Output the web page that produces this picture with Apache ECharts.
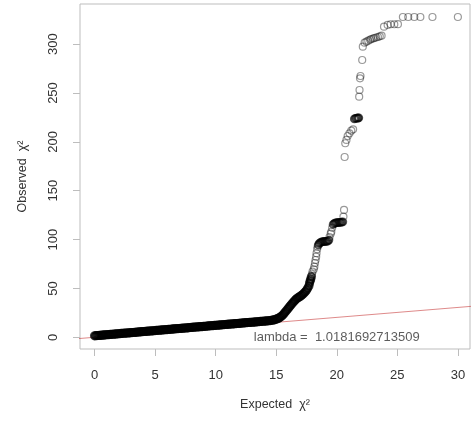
<!DOCTYPE html>
<html>
<head>
<meta charset="utf-8">
<script src="https://cdn.jsdelivr.net/npm/echarts@6/dist/echarts.min.js"></script>
<style>
html,body{margin:0;padding:0;background:#fff;}
#chart{width:474px;height:421px;}
</style>
</head>
<body>
<div id="chart"></div>
<script>
// Dense band (expected chi^2 quantiles vs observed)
const bandExpected = [
0.0,0.1,0.2,0.3,0.4,0.5,0.6,0.7,0.8,0.9,1.0,1.1,1.2,1.3,1.4,1.5,1.6,1.7,1.8,1.9,
2.0,2.1,2.2,2.3,2.4,2.5,2.6,2.7,2.8,2.9,3.0,3.1,3.2,3.3,3.4,3.5,3.6,3.7,3.8,3.9,
4.0,4.1,4.2,4.3,4.4,4.5,4.6,4.7,4.8,4.9,5.0,5.1,5.2,5.3,5.4,5.5,5.6,5.7,5.8,5.9,
6.0,6.1,6.2,6.3,6.4,6.5,6.6,6.7,6.8,6.9,7.0,7.1,7.2,7.3,7.4,7.5,7.6,7.7,7.8,7.9,
8.0,8.1,8.2,8.3,8.4,8.5,8.6,8.7,8.8,8.9,9.0,9.1,9.2,9.3,9.4,9.5,9.6,9.7,9.8,9.9,
10.0,10.1,10.2,10.3,10.4,10.5,10.6,10.7,10.8,10.9,11.0,11.1,11.2,11.3,11.4,11.5,11.6,11.7,11.8,11.9,
12.0,12.1,12.2,12.3,12.4,12.5,12.6,12.7,12.8,12.9,13.0,13.1,13.2,13.3,13.4,13.5,13.6,13.7,13.8,13.9,
14.0,14.1,14.2,14.3,14.4,14.5,14.6,14.7,14.8,14.9,
15.0,15.1,15.2,15.3,15.4,15.5,15.6,15.7,15.8,15.9,16.0,16.1,16.2,16.3,16.4,16.5,16.6,16.7,16.8,16.9,
17.0,17.1,17.2,17.3,17.4,17.5,17.6,17.7,17.75,17.8,17.85,17.9
];
const bandObserved = [
1.5,1.6,1.7,1.8,1.9,2.0,2.1,2.2,2.4,2.5,2.6,2.7,2.8,2.9,3.0,3.1,3.2,3.3,3.4,3.5,
3.6,3.7,3.9,4.0,4.1,4.2,4.3,4.4,4.5,4.6,4.7,4.8,4.9,5.0,5.1,5.2,5.4,5.5,5.6,5.7,
5.8,5.9,6.0,6.1,6.2,6.3,6.4,6.5,6.6,6.7,6.9,7.0,7.1,7.2,7.3,7.4,7.5,7.6,7.7,7.8,
7.9,8.0,8.1,8.2,8.3,8.5,8.6,8.7,8.8,8.9,9.0,9.1,9.2,9.3,9.4,9.5,9.6,9.7,9.8,10.0,
10.1,10.2,10.3,10.4,10.5,10.6,10.7,10.8,10.9,11.0,11.1,11.2,11.3,11.5,11.6,11.7,11.8,11.9,12.0,12.1,
12.2,12.3,12.4,12.5,12.6,12.7,12.8,13.0,13.1,13.2,13.3,13.4,13.5,13.6,13.7,13.8,13.9,14.0,14.1,14.2,
14.3,14.4,14.6,14.7,14.8,14.9,15.0,15.1,15.2,15.3,15.4,15.5,15.6,15.7,15.8,15.9,16.1,16.2,16.3,16.4,
16.5,16.6,16.7,16.8,16.9,17.1,17.3,17.5,17.8,18.1,
18.5,19.0,19.6,20.3,21.2,22.3,23.6,25.0,26.6,28.2,29.8,31.3,32.8,34.3,35.8,37.2,38.5,39.6,40.5,41.3,
42.1,43.0,44.0,45.2,46.6,48.2,50.2,52.6,55.3,57.5,59.5,62.0
];
// Plateaus of tied observed values
const plateauExpected = [
18.48,18.55,18.65,18.75,18.85,18.95,19.05,19.15,19.25,19.35,
19.7,19.8,19.9,20.0,20.1,20.2,20.3,20.4,20.5,
21.45,21.55,21.65,21.75,21.82
];
const plateauObserved = [
94.5,96.2,97.0,97.5,97.8,98.0,98.1,98.2,98.4,99.5,
115.5,116.5,117.0,117.3,117.4,117.5,117.6,117.8,118.2,
223.5,224.0,224.2,224.4,224.6
];
// Sparse upper tail
const tailExpected = [
17.95,18.0,18.1,18.15,18.2,18.25,18.3,18.33,18.38,18.42,
19.4,19.5,19.55,19.62,20.55,20.6,20.65,20.7,20.8,20.9,21.05,21.2,21.35,
21.85,21.88,21.92,21.96,22.1,22.15,22.3,22.45,22.6,22.75,22.85,23.0,23.1,23.25,23.4,23.55,23.7,
23.9,24.2,24.45,24.75,25.05,25.46,25.9,26.4,26.9,27.9,30.0
];
const tailObserved = [
64.5,67.1,69.5,72.3,76.0,79.1,82.5,86.0,90.0,92.7,
102.4,106.0,108.0,112.0,123.5,130.3,184.5,198.6,202.0,206.0,208.7,211.5,212.8,
246.3,253.1,265.0,267.4,283.8,297.4,301.5,302.5,303.6,304.5,305.3,305.8,306.3,306.8,307.3,308.0,308.7,
317.9,319.7,320.4,320.4,320.5,327.8,327.8,327.8,327.8,327.8,327.8
];
const lambda = 1.0181692713509;
const lineX = [-1.9, 32];
const xTicks = [0, 5, 10, 15, 20, 25, 30];
const yTicks = [0, 50, 100, 150, 200, 250, 300];

const bandPts = bandExpected.map((e, i) => [e, bandObserved[i]]);
const platPts = plateauExpected.map((e, i) => [e, plateauObserved[i]]);
const tailPts = tailExpected.map((e, i) => [e, tailObserved[i]]);
const linePts = lineX.map(x => [x, x * lambda]);

const chart = echarts.init(document.getElementById('chart'), null, {renderer: 'canvas'});
const axisGray = '#bdbdbd';
const textCol = '#333';
const font = 'Liberation Sans, Arial, sans-serif';
chart.setOption({
  animation: false,
  backgroundColor: '#fff',
  grid: {left: 80, right: 4, top: 4, bottom: 72, show: true, borderColor: axisGray, borderWidth: 1, backgroundColor: 'transparent'},
  xAxis: {
    type: 'value', min: -1.2, max: 31.0,
    axisLine: {show: false, onZero: false},
    splitLine: {show: false},
    axisTick: {show: true, inside: false, length: 7, lineStyle: {color: axisGray}, customValues: xTicks},
    axisLabel: {customValues: xTicks, margin: 20, color: textCol, fontSize: 13, fontFamily: font},
    name: 'Expected  χ²', nameLocation: 'middle', nameGap: 49,
    nameTextStyle: {color: textCol, fontSize: 12.5, fontFamily: font}
  },
  yAxis: {
    type: 'value', min: -12.0, max: 341.1,
    axisLine: {show: false, onZero: false},
    splitLine: {show: false},
    axisTick: {show: true, inside: false, length: 7, lineStyle: {color: axisGray}, customValues: yTicks},
    axisLabel: {customValues: yTicks, margin: 20, rotate: 90, color: textCol, fontSize: 13, fontFamily: font},
    name: 'Observed  χ²', nameLocation: 'middle', nameGap: 51, nameRotate: 90,
    nameTextStyle: {color: textCol, fontSize: 12.5, fontFamily: font}
  },
  series: [
    {
      type: 'line', data: linePts, clip: false, symbol: 'none', silent: true,
      lineStyle: {color: 'rgba(200,60,60,0.6)', width: 1}, z: 1
    },
    {
      type: 'scatter', data: bandPts, symbol: 'circle', symbolSize: 7, silent: true,
      itemStyle: {color: 'rgba(0,0,0,0)', borderColor: 'rgba(0,0,0,0.95)', borderWidth: 2.2}, z: 2
    },
    {
      type: 'scatter', data: platPts, symbol: 'circle', symbolSize: 7, silent: true,
      itemStyle: {color: 'rgba(0,0,0,0)', borderColor: 'rgba(0,0,0,0.85)', borderWidth: 1.8}, z: 2
    },
    {
      type: 'scatter', data: tailPts, symbol: 'circle', symbolSize: 7, silent: true,
      itemStyle: {color: 'rgba(0,0,0,0)', borderColor: 'rgba(0,0,0,0.5)', borderWidth: 1.2}, z: 2
    },
    {
      type: 'scatter', data: [[20, 0]], symbol: 'circle', symbolSize: 1, silent: true,
      itemStyle: {color: 'rgba(0,0,0,0)'},
      label: {show: true, position: 'inside', formatter: 'lambda =  ' + '1.0181692713509',
        color: textCol, fontSize: 13, fontFamily: font}, z: 3
    }
  ]
});
</script>
</body>
</html>
